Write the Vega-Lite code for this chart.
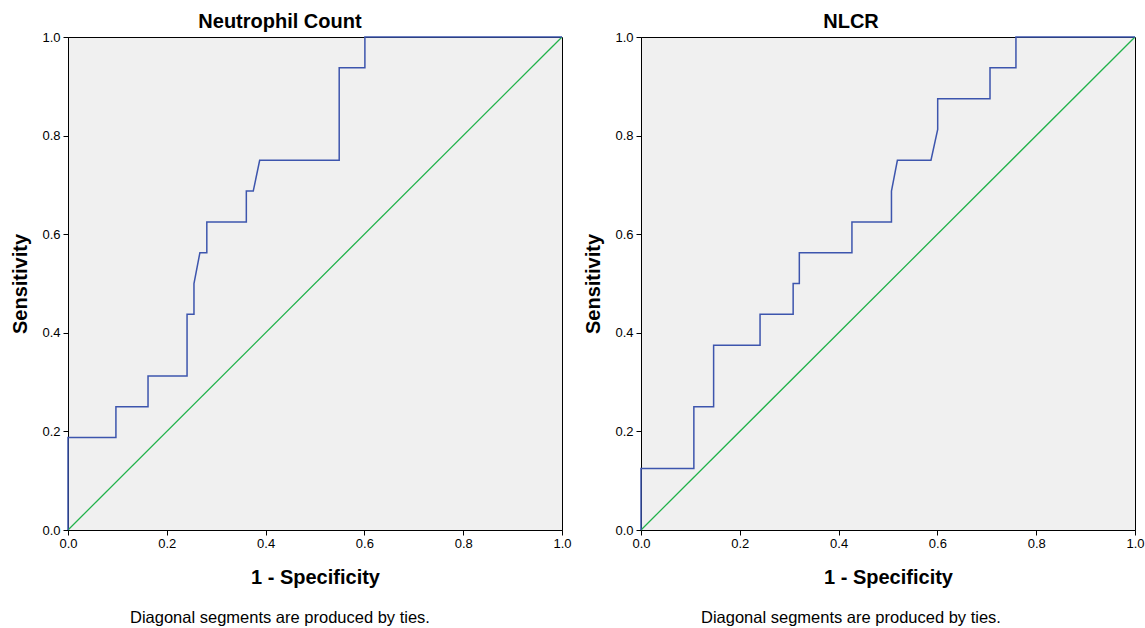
{
  "$schema": "https://vega.github.io/schema/vega-lite/v6.json",
  "background": "white",
  "padding": {"left": 10, "top": 11, "right": 0, "bottom": 0},
  "config": {
    "font": "Liberation Sans",
    "view": {"fill": "#f0f0f0", "stroke": "#000000", "strokeWidth": 1},
    "axis": {
      "grid": false, "domainColor": "#000000", "tickColor": "#000000", "tickSize": 5,
      "labelColor": "#000000", "labelFontSize": 13, "labelFont": "Liberation Sans", "labelFlush": false,
      "titleColor": "#000000", "titleFontSize": 20, "titleFontWeight": "bold", "titleFont": "Liberation Sans",
      "format": ".1f", "tickCount": 6
    },
    "axisX": {"labelPadding": 2, "titlePadding": 17},
    "axisY": {"labelPadding": 3, "titlePadding": 11},
    "title": {"fontSize": 20, "fontWeight": "bold", "color": "#000000", "font": "Liberation Sans", "offset": -1, "frame": "bounds", "anchor": "middle"}
  },
  "datasets": {
    "neut": [
      {"o": 1, "x": 0, "y": 0}, {"o": 2, "x": 0, "y": 0.1875}, {"o": 3, "x": 0.097, "y": 0.1875},
      {"o": 4, "x": 0.097, "y": 0.25}, {"o": 5, "x": 0.162, "y": 0.25}, {"o": 6, "x": 0.162, "y": 0.3125},
      {"o": 7, "x": 0.241, "y": 0.3125}, {"o": 8, "x": 0.241, "y": 0.4375}, {"o": 9, "x": 0.255, "y": 0.4375},
      {"o": 10, "x": 0.255, "y": 0.5}, {"o": 11, "x": 0.267, "y": 0.5625}, {"o": 12, "x": 0.281, "y": 0.5625},
      {"o": 13, "x": 0.281, "y": 0.625}, {"o": 14, "x": 0.361, "y": 0.625}, {"o": 15, "x": 0.361, "y": 0.6875},
      {"o": 16, "x": 0.375, "y": 0.6875}, {"o": 17, "x": 0.388, "y": 0.75}, {"o": 18, "x": 0.549, "y": 0.75},
      {"o": 19, "x": 0.549, "y": 0.9375}, {"o": 20, "x": 0.601, "y": 0.9375}, {"o": 21, "x": 0.601, "y": 1},
      {"o": 22, "x": 1, "y": 1}
    ],
    "nlcr": [
      {"o": 1, "x": 0, "y": 0}, {"o": 2, "x": 0, "y": 0.125}, {"o": 3, "x": 0.107, "y": 0.125},
      {"o": 4, "x": 0.107, "y": 0.25}, {"o": 5, "x": 0.147, "y": 0.25}, {"o": 6, "x": 0.147, "y": 0.375},
      {"o": 7, "x": 0.241, "y": 0.375}, {"o": 8, "x": 0.241, "y": 0.4375}, {"o": 9, "x": 0.308, "y": 0.4375},
      {"o": 10, "x": 0.308, "y": 0.5}, {"o": 11, "x": 0.3205, "y": 0.5}, {"o": 12, "x": 0.3205, "y": 0.5625},
      {"o": 13, "x": 0.427, "y": 0.5625}, {"o": 14, "x": 0.427, "y": 0.625}, {"o": 15, "x": 0.507, "y": 0.625},
      {"o": 16, "x": 0.507, "y": 0.6875}, {"o": 17, "x": 0.519, "y": 0.75}, {"o": 18, "x": 0.587, "y": 0.75},
      {"o": 19, "x": 0.6006, "y": 0.8125}, {"o": 20, "x": 0.6006, "y": 0.875}, {"o": 21, "x": 0.7065, "y": 0.875},
      {"o": 22, "x": 0.7065, "y": 0.9375}, {"o": 23, "x": 0.759, "y": 0.9375}, {"o": 24, "x": 0.759, "y": 1},
      {"o": 25, "x": 1, "y": 1}
    ],
    "diag": [{"o": 1, "x": 0, "y": 0}, {"o": 2, "x": 1, "y": 1}]
  },
  "spacing": 11,
  "hconcat": [
    {
      "title": {"text": "Diagonal segments are produced by ties.", "orient": "bottom", "fontSize": 16.5, "fontWeight": "normal", "offset": 22, "dx": -11},
      "vconcat": [
        {
          "title": {"text": "Neutrophil Count", "dx": -11},
          "width": 494, "height": 493,
          "encoding": {
            "x": {"field": "x", "type": "quantitative", "scale": {"domain": [0, 1], "nice": false, "zero": false}, "title": "1 - Specificity"},
            "y": {"field": "y", "type": "quantitative", "scale": {"domain": [0, 1], "nice": false, "zero": false}, "title": "Sensitivity"},
            "order": {"field": "o", "type": "quantitative"}
          },
          "layer": [
            {"data": {"name": "diag"}, "mark": {"type": "line", "color": "#21b24b", "strokeWidth": 1.3}},
            {"data": {"name": "neut"}, "mark": {"type": "line", "color": "#3d55ad", "strokeWidth": 1.5}}
          ]
        }
      ]
    },
    {
      "title": {"text": "Diagonal segments are produced by ties.", "orient": "bottom", "fontSize": 16.5, "fontWeight": "normal", "offset": 22, "dx": -13},
      "vconcat": [
        {
          "title": {"text": "NLCR", "dx": -13},
          "width": 494, "height": 493,
          "encoding": {
            "x": {"field": "x", "type": "quantitative", "scale": {"domain": [0, 1], "nice": false, "zero": false}, "title": "1 - Specificity"},
            "y": {"field": "y", "type": "quantitative", "scale": {"domain": [0, 1], "nice": false, "zero": false}, "title": "Sensitivity"},
            "order": {"field": "o", "type": "quantitative"}
          },
          "layer": [
            {"data": {"name": "diag"}, "mark": {"type": "line", "color": "#21b24b", "strokeWidth": 1.3}},
            {"data": {"name": "nlcr"}, "mark": {"type": "line", "color": "#3d55ad", "strokeWidth": 1.5}}
          ]
        }
      ]
    }
  ]
}
